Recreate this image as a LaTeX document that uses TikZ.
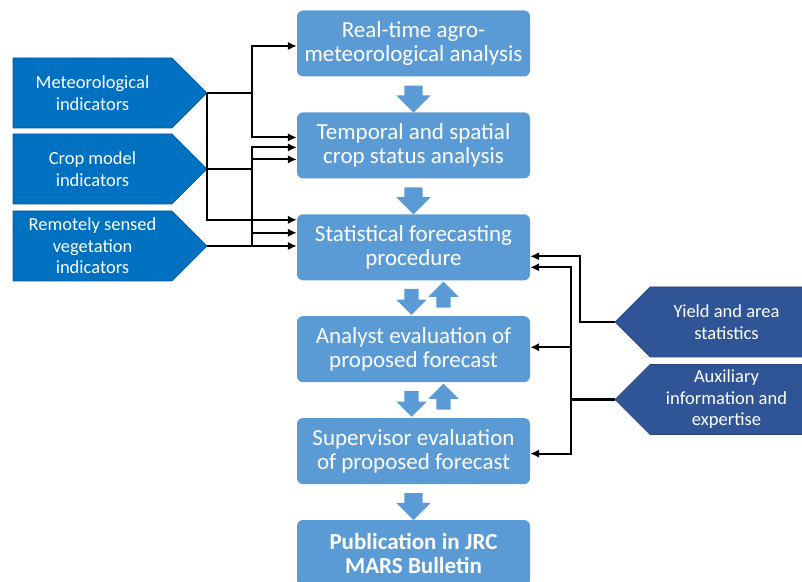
\documentclass[tikz,border=0pt]{standalone}
\usepackage{fontspec}
\setmainfont{Carlito}
\usetikzlibrary{positioning,shapes.symbols,shapes.arrows,arrows.meta,calc}
\definecolor{boxblue}{HTML}{5B9BD5}
\definecolor{leftblue}{HTML}{0070C0}
\definecolor{rightblue}{HTML}{2F5597}

\begin{document}
\begin{tikzpicture}[x=1pt, y=1pt, node distance=35.5pt,
  stage/.style={rectangle, rounded corners=6pt, fill=boxblue, text=white, minimum width=233pt, minimum height=66pt, align=center, inner sep=0pt, font=\fontsize{23}{24}\selectfont},
  source/.style={shape=signal, signal to=east, signal pointer angle=90, fill=leftblue, draw=leftblue!80!black, line width=0.6pt, text=white, text width=159pt, align=flush center, minimum height=70pt, inner sep=0pt, font=\fontsize{18.5}{21.5}\selectfont},
  extra/.style={source, signal to=west, fill=rightblue, draw=rightblue!80!black, text width=153pt},
  fat/.style={single arrow, fill=boxblue, inner xsep=0pt, inner ysep=9pt, single arrow head extend=8pt, minimum height=27pt},
  fatdown/.style={fat, rotate=-90},
  fatpair/.style={fat, inner ysep=7pt, minimum height=26pt},
  feed/.style={-{Latex[length=9pt,width=8.5pt]}, line width=2.1pt}]

\useasboundingbox (0,0) rectangle (802,581);

% main chain
\node[stage] (b1) at (413.5,537.5) {Real-time agro-\\meteorological analysis};
\node[stage] (b2) [below=of b1] {Temporal and spatial\\crop status analysis};
\node[stage] (b3) [below=of b2] {Statistical forecasting\\procedure};
\node[stage] (b4) [below=of b3] {Analyst evaluation of\\proposed forecast};
\node[stage] (b5) [below=of b4] {Supervisor evaluation\\of proposed forecast};
\node[stage, font=\fontsize{23}{24}\selectfont\bfseries] (b6) [below=of b5] {Publication in JRC\\MARS Bulletin};

\node[fatdown] (d12) at ($(b1.south)!0.5!(b2.north)$) {};
\node[fatdown] (d23) at ($(b2.south)!0.5!(b3.north)$) {};
\node[fatpair, rotate=-90] (d34) at ($(b3.south)!0.5!(b4.north)+(-2,0)$) {};
\node[fatpair, rotate=90]  (u43) at ($(b3.south)!0.5!(b4.north)+(30,0)$) {};
\node[fatpair, rotate=-90] (d45) at ($(b4.south)!0.5!(b5.north)+(-2,0)$) {};
\node[fatpair, rotate=90]  (u54) at ($(b4.south)!0.5!(b5.north)+(30,0)$) {};
\node[fatdown] (d56) at ($(b5.south)!0.5!(b6.north)$) {};

% inputs
\node[source] (met)  at (92.5,488) {Meteorological\\indicators};
\node[source] (crop) at (92.5,412) {Crop model\\indicators};
\node[source] (rem)  at (92.5,335) {Remotely sensed\\vegetation\\indicators};

\node[extra] (yld) at (726.5,259)   {Yield and area\\statistics};
\node[extra] (aux) at (726.5,181.5) {Auxiliary\\information and\\expertise};

\coordinate (lbus)  at (252,0);
\coordinate (rbusA) at (580,0);
\coordinate (rbusB) at (571,0);

% left feeds
\draw[feed] (met.east) -- (met.east -| lbus) |- ([yshift=-2.5pt]b1.west);
\draw[feed] (met.east -| lbus) |- ([yshift=8pt]b2.west);
\draw[feed] (met.east) |- ([yshift=27.5pt]b3.west);
\draw[feed] (crop.east) -- (crop.east -| lbus) |- ([yshift=-2pt]b2.west);
\draw[feed] (crop.east -| lbus) |- ([yshift=14.5pt]b3.west);
\draw[feed] (rem.east) -- (rem.east -| lbus) |- ([yshift=-14pt]b2.west);
\draw[feed] (rem.east) -- (rem.east -| b3.west);

% right feeds
\draw[feed] (yld.west) -- (yld.west -| rbusA) |- ([yshift=-9pt]b3.east);
\draw[feed] (aux.west) -- (aux.west -| rbusB) |- ([yshift=-20pt]b3.east);
\draw[feed] (aux.west -| rbusB) |- ([yshift=2pt]b4.east);
\draw[feed] (aux.west -| rbusB) |- ([yshift=-2.5pt]b5.east);
\end{tikzpicture}
\end{document}
